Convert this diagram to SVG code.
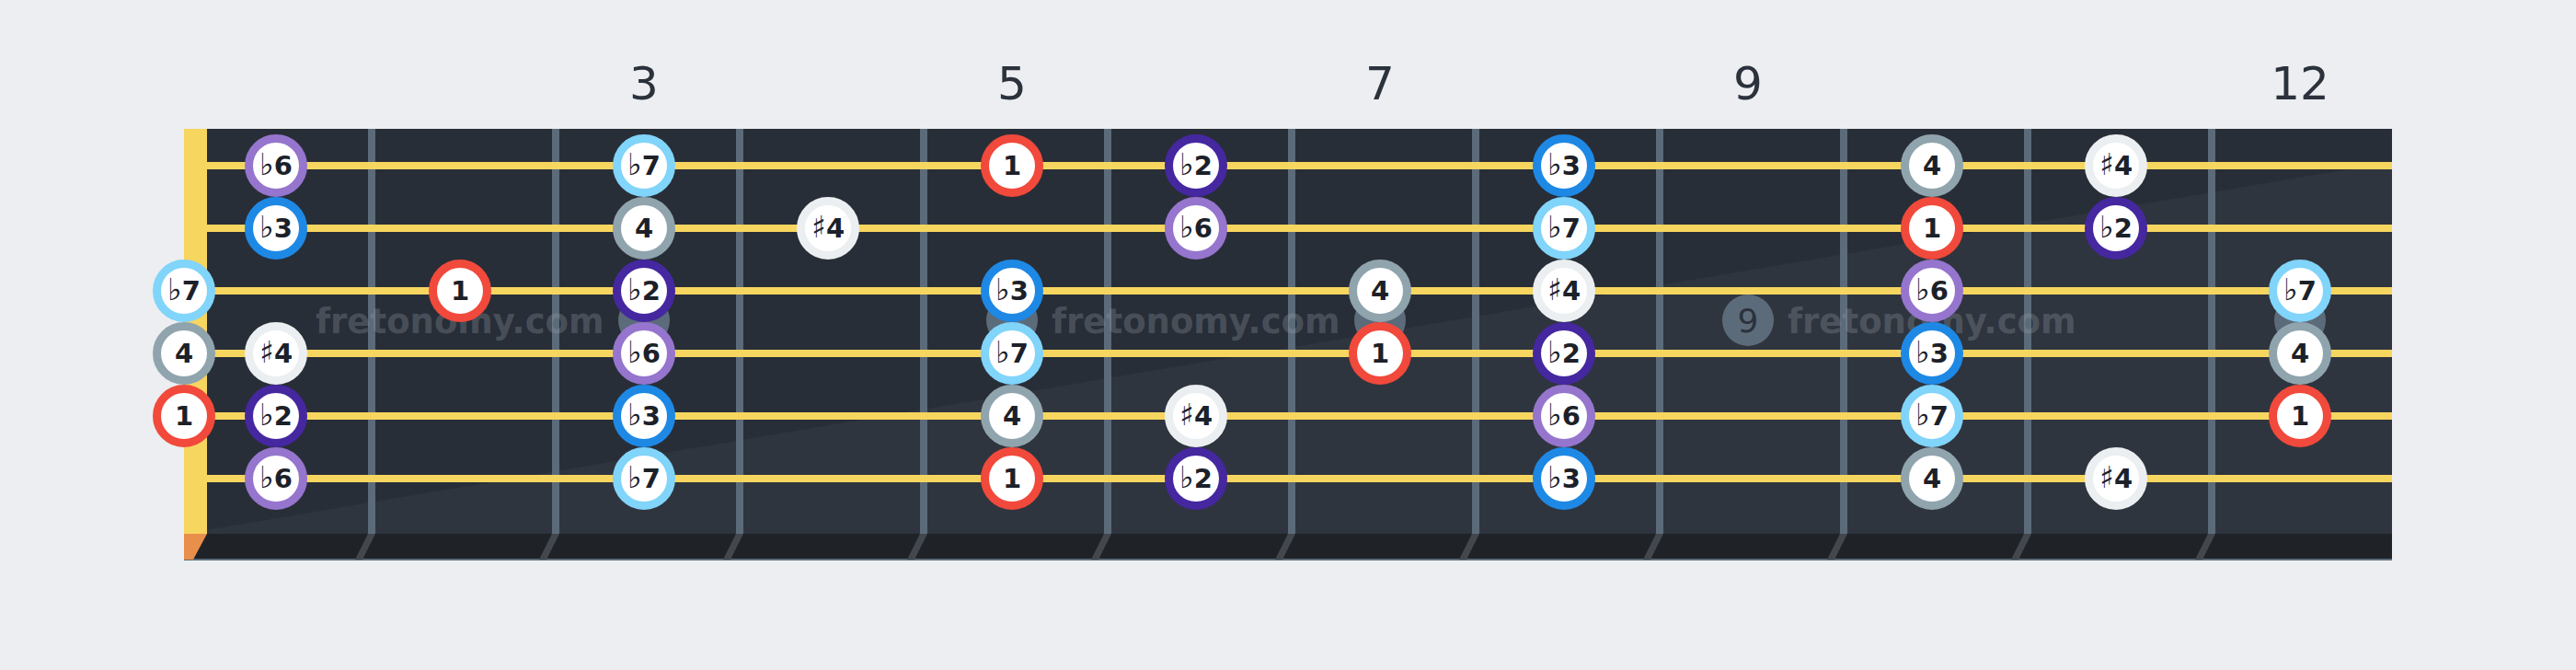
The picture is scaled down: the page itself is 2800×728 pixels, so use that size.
<svg xmlns="http://www.w3.org/2000/svg" width="2800" height="728" viewBox="0 0 2800 728">
<style>
.fret{fill:#5c6b7a}
.fretb{fill:#43484f}
.str{fill:#f7d660}
.inlay{fill:#5c6b7a}
.wm{font-family:"DejaVu Sans",sans-serif;font-weight:bold;font-size:37px;fill:#9aa3ad;fill-opacity:0.3}
.flabel{font-family:"DejaVu Sans",sans-serif;font-size:50px;fill:#2b323c;text-anchor:middle}
.note circle{fill:#ffffff;stroke-width:9}
.note text{font-family:"DejaVu Sans",sans-serif;font-weight:bold;font-size:29px;fill:#1c2129;text-anchor:middle}
.note .acc{font-weight:normal;font-size:33px}
.i1 circle{stroke:#f1493b}
.ib2 circle{stroke:#4527a0}
.ib3 circle{stroke:#1e88e5}
.i4 circle{stroke:#90a4ae}
.is4 circle{stroke:#eceff1}
.ib6 circle{stroke:#9575cd}
.ib7 circle{stroke:#81d4fa}
</style>
<rect width="2800" height="728" fill="#eceef1"/>
<g id="fret-labels">
<text class="flabel" x="700" y="108">3</text>
<text class="flabel" x="1100" y="108">5</text>
<text class="flabel" x="1500" y="108">7</text>
<text class="flabel" x="1900" y="108">9</text>
<text class="flabel" x="2500" y="108">12</text>
</g>
<g id="fretboard">
<rect x="200" y="140" width="2400" height="440" fill="#282e37"/>
<polygon points="200,580 2600,176 2600,580" fill="#2f353e"/>
<rect x="200" y="580" width="2400" height="28" fill="#1f2328"/>
<rect x="200" y="607" width="2400" height="2" fill="#5c6b7a"/>
<g id="frets">
<rect class="fret" x="400" y="140" width="8" height="440"/>
<rect class="fret" x="600" y="140" width="8" height="440"/>
<rect class="fret" x="800" y="140" width="8" height="440"/>
<rect class="fret" x="1000" y="140" width="8" height="440"/>
<rect class="fret" x="1200" y="140" width="8" height="440"/>
<rect class="fret" x="1400" y="140" width="8" height="440"/>
<rect class="fret" x="1600" y="140" width="8" height="440"/>
<rect class="fret" x="1800" y="140" width="8" height="440"/>
<rect class="fret" x="2000" y="140" width="8" height="440"/>
<rect class="fret" x="2200" y="140" width="8" height="440"/>
<rect class="fret" x="2400" y="140" width="8" height="440"/>
<polygon class="fretb" points="400,580 408,580 394,608 386,608"/>
<polygon class="fretb" points="600,580 608,580 594,608 586,608"/>
<polygon class="fretb" points="800,580 808,580 794,608 786,608"/>
<polygon class="fretb" points="1000,580 1008,580 994,608 986,608"/>
<polygon class="fretb" points="1200,580 1208,580 1194,608 1186,608"/>
<polygon class="fretb" points="1400,580 1408,580 1394,608 1386,608"/>
<polygon class="fretb" points="1600,580 1608,580 1594,608 1586,608"/>
<polygon class="fretb" points="1800,580 1808,580 1794,608 1786,608"/>
<polygon class="fretb" points="2000,580 2008,580 1994,608 1986,608"/>
<polygon class="fretb" points="2200,580 2208,580 2194,608 2186,608"/>
<polygon class="fretb" points="2400,580 2408,580 2394,608 2386,608"/>
</g>
<g id="inlays">
<circle class="inlay" cx="700" cy="348" r="28"/>
<circle class="inlay" cx="1100" cy="348" r="28"/>
<circle class="inlay" cx="1500" cy="348" r="28"/>
<circle class="inlay" cx="1900" cy="348" r="28"/>
<text x="1900" y="361" font-family="DejaVu Sans, sans-serif" font-size="36" fill="#2b323c" text-anchor="middle">9</text>
<circle class="inlay" cx="2500" cy="348" r="28"/>
</g>
<g id="watermarks">
<text class="wm" x="343" y="362">fretonomy.com</text>
<text class="wm" x="1143" y="362">fretonomy.com</text>
<text class="wm" x="1943" y="362">fretonomy.com</text>
</g>
<rect id="nut" x="200" y="140" width="25" height="440" fill="#f7d660"/>
<polygon points="200,580 225,580 210,608 200,608" fill="#e98f4c"/>
<g id="strings">
<rect class="str" x="225" y="176" width="2375" height="8"/>
<rect class="str" x="225" y="244" width="2375" height="8"/>
<rect class="str" x="225" y="312" width="2375" height="8"/>
<rect class="str" x="225" y="380" width="2375" height="8"/>
<rect class="str" x="225" y="448" width="2375" height="8"/>
<rect class="str" x="225" y="516" width="2375" height="8"/>
</g>
</g>
<g id="notes">
<g id="s1f1" class="note ib6"><circle cx="300" cy="180" r="29.5"/><text x="300" y="190"><tspan class="acc">♭</tspan>6</text></g>
<g id="s1f3" class="note ib7"><circle cx="700" cy="180" r="29.5"/><text x="700" y="190"><tspan class="acc">♭</tspan>7</text></g>
<g id="s1f5" class="note i1"><circle cx="1100" cy="180" r="29.5"/><text x="1100" y="190">1</text></g>
<g id="s1f6" class="note ib2"><circle cx="1300" cy="180" r="29.5"/><text x="1300" y="190"><tspan class="acc">♭</tspan>2</text></g>
<g id="s1f8" class="note ib3"><circle cx="1700" cy="180" r="29.5"/><text x="1700" y="190"><tspan class="acc">♭</tspan>3</text></g>
<g id="s1f10" class="note i4"><circle cx="2100" cy="180" r="29.5"/><text x="2100" y="190">4</text></g>
<g id="s1f11" class="note is4"><circle cx="2300" cy="180" r="29.5"/><text x="2300" y="190"><tspan class="acc">♯</tspan>4</text></g>

<g id="s2f1" class="note ib3"><circle cx="300" cy="248" r="29.5"/><text x="300" y="258"><tspan class="acc">♭</tspan>3</text></g>
<g id="s2f3" class="note i4"><circle cx="700" cy="248" r="29.5"/><text x="700" y="258">4</text></g>
<g id="s2f4" class="note is4"><circle cx="900" cy="248" r="29.5"/><text x="900" y="258"><tspan class="acc">♯</tspan>4</text></g>
<g id="s2f6" class="note ib6"><circle cx="1300" cy="248" r="29.5"/><text x="1300" y="258"><tspan class="acc">♭</tspan>6</text></g>
<g id="s2f8" class="note ib7"><circle cx="1700" cy="248" r="29.5"/><text x="1700" y="258"><tspan class="acc">♭</tspan>7</text></g>
<g id="s2f10" class="note i1"><circle cx="2100" cy="248" r="29.5"/><text x="2100" y="258">1</text></g>
<g id="s2f11" class="note ib2"><circle cx="2300" cy="248" r="29.5"/><text x="2300" y="258"><tspan class="acc">♭</tspan>2</text></g>

<g id="s3f0" class="note ib7"><circle cx="200" cy="316" r="29.5"/><text x="200" y="326"><tspan class="acc">♭</tspan>7</text></g>
<g id="s3f2" class="note i1"><circle cx="500" cy="316" r="29.5"/><text x="500" y="326">1</text></g>
<g id="s3f3" class="note ib2"><circle cx="700" cy="316" r="29.5"/><text x="700" y="326"><tspan class="acc">♭</tspan>2</text></g>
<g id="s3f5" class="note ib3"><circle cx="1100" cy="316" r="29.5"/><text x="1100" y="326"><tspan class="acc">♭</tspan>3</text></g>
<g id="s3f7" class="note i4"><circle cx="1500" cy="316" r="29.5"/><text x="1500" y="326">4</text></g>
<g id="s3f8" class="note is4"><circle cx="1700" cy="316" r="29.5"/><text x="1700" y="326"><tspan class="acc">♯</tspan>4</text></g>
<g id="s3f10" class="note ib6"><circle cx="2100" cy="316" r="29.5"/><text x="2100" y="326"><tspan class="acc">♭</tspan>6</text></g>
<g id="s3f12" class="note ib7"><circle cx="2500" cy="316" r="29.5"/><text x="2500" y="326"><tspan class="acc">♭</tspan>7</text></g>

<g id="s4f0" class="note i4"><circle cx="200" cy="384" r="29.5"/><text x="200" y="394">4</text></g>
<g id="s4f1" class="note is4"><circle cx="300" cy="384" r="29.5"/><text x="300" y="394"><tspan class="acc">♯</tspan>4</text></g>
<g id="s4f3" class="note ib6"><circle cx="700" cy="384" r="29.5"/><text x="700" y="394"><tspan class="acc">♭</tspan>6</text></g>
<g id="s4f5" class="note ib7"><circle cx="1100" cy="384" r="29.5"/><text x="1100" y="394"><tspan class="acc">♭</tspan>7</text></g>
<g id="s4f7" class="note i1"><circle cx="1500" cy="384" r="29.5"/><text x="1500" y="394">1</text></g>
<g id="s4f8" class="note ib2"><circle cx="1700" cy="384" r="29.5"/><text x="1700" y="394"><tspan class="acc">♭</tspan>2</text></g>
<g id="s4f10" class="note ib3"><circle cx="2100" cy="384" r="29.5"/><text x="2100" y="394"><tspan class="acc">♭</tspan>3</text></g>
<g id="s4f12" class="note i4"><circle cx="2500" cy="384" r="29.5"/><text x="2500" y="394">4</text></g>

<g id="s5f0" class="note i1"><circle cx="200" cy="452" r="29.5"/><text x="200" y="462">1</text></g>
<g id="s5f1" class="note ib2"><circle cx="300" cy="452" r="29.5"/><text x="300" y="462"><tspan class="acc">♭</tspan>2</text></g>
<g id="s5f3" class="note ib3"><circle cx="700" cy="452" r="29.5"/><text x="700" y="462"><tspan class="acc">♭</tspan>3</text></g>
<g id="s5f5" class="note i4"><circle cx="1100" cy="452" r="29.5"/><text x="1100" y="462">4</text></g>
<g id="s5f6" class="note is4"><circle cx="1300" cy="452" r="29.5"/><text x="1300" y="462"><tspan class="acc">♯</tspan>4</text></g>
<g id="s5f8" class="note ib6"><circle cx="1700" cy="452" r="29.5"/><text x="1700" y="462"><tspan class="acc">♭</tspan>6</text></g>
<g id="s5f10" class="note ib7"><circle cx="2100" cy="452" r="29.5"/><text x="2100" y="462"><tspan class="acc">♭</tspan>7</text></g>
<g id="s5f12" class="note i1"><circle cx="2500" cy="452" r="29.5"/><text x="2500" y="462">1</text></g>

<g id="s6f1" class="note ib6"><circle cx="300" cy="520" r="29.5"/><text x="300" y="530"><tspan class="acc">♭</tspan>6</text></g>
<g id="s6f3" class="note ib7"><circle cx="700" cy="520" r="29.5"/><text x="700" y="530"><tspan class="acc">♭</tspan>7</text></g>
<g id="s6f5" class="note i1"><circle cx="1100" cy="520" r="29.5"/><text x="1100" y="530">1</text></g>
<g id="s6f6" class="note ib2"><circle cx="1300" cy="520" r="29.5"/><text x="1300" y="530"><tspan class="acc">♭</tspan>2</text></g>
<g id="s6f8" class="note ib3"><circle cx="1700" cy="520" r="29.5"/><text x="1700" y="530"><tspan class="acc">♭</tspan>3</text></g>
<g id="s6f10" class="note i4"><circle cx="2100" cy="520" r="29.5"/><text x="2100" y="530">4</text></g>
<g id="s6f11" class="note is4"><circle cx="2300" cy="520" r="29.5"/><text x="2300" y="530"><tspan class="acc">♯</tspan>4</text></g>
</g>
</svg>
